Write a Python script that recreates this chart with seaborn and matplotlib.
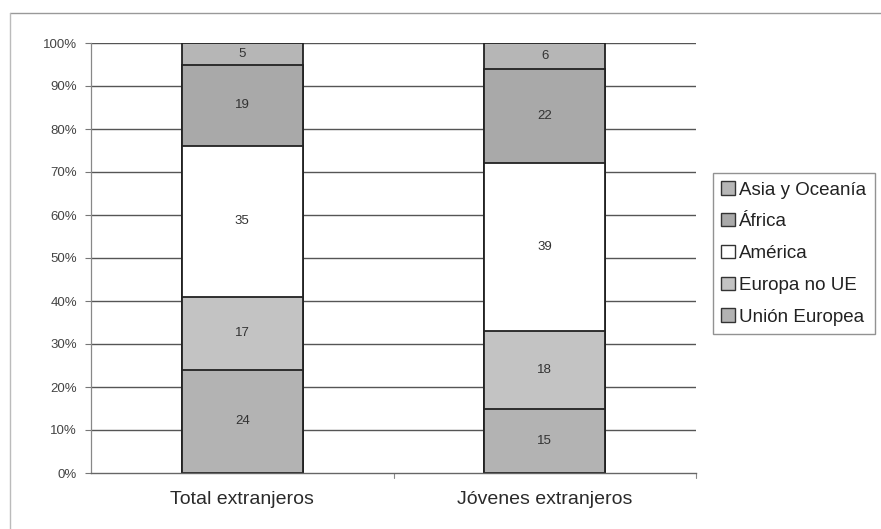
import numpy as np
import pandas as pd
import matplotlib
matplotlib.use("Agg")
import matplotlib.pyplot as plt
from matplotlib.patches import Patch
from matplotlib.lines import Line2D
import seaborn as sns

# Distribution by origin (percent)
groups = ["Total extranjeros", "Jóvenes extranjeros"]
regions = ["Unión Europea", "Europa no UE", "América", "África", "Asia y Oceanía"]
union_europea = [24, 15]
europa_no_ue = [17, 18]
america = [35, 39]
africa = [19, 22]
asia_oceania = [5, 6]
y_ticks = [0, 10, 20, 30, 40, 50, 60, 70, 80, 90, 100]

colors = {
    "Unión Europea": "#b3b3b3",
    "Europa no UE": "#c3c3c3",
    "América": "#ffffff",
    "África": "#a9a9a9",
    "Asia y Oceanía": "#b6b6b6",
}

values = [union_europea, europa_no_ue, america, africa, asia_oceania]
df = pd.DataFrame({"grupo": groups * len(regions),
                   "region": [r for r in regions for _ in groups],
                   "valor": [v for vals in values for v in vals]})
df["grupo"] = pd.Categorical(df["grupo"], groups)
df["region"] = pd.Categorical(df["region"], regions)
df = df.sort_values(["grupo", "region"])
df["top"] = df.groupby("grupo", observed=True)["valor"].cumsum()
df["mid"] = df["top"] - df["valor"] / 2

sns.set_theme(style="white")
plt.rcParams["font.family"] = ["Liberation Sans", "DejaVu Sans"]

fig = plt.figure(figsize=(8.81, 5.29), dpi=100)
ax = fig.add_axes([91 / 881, 1 - 473 / 529, (696 - 91) / 881, (473 - 43) / 529])

# stacked bars: draw cumulative tops from the highest segment down
for region in reversed(regions):
    sub = df[df["region"] == region]
    sns.barplot(data=sub, x="grupo", y="top", order=groups, color=colors[region],
                width=0.4, edgecolor="#222222", linewidth=1.3, saturation=1,
                ax=ax, zorder=2)

for _, row in df.iterrows():
    xi = groups.index(row["grupo"])
    ax.text(xi, row["mid"], f"{row['valor']:d}", ha="center", va="center",
            fontsize=9.5, color="#333333", zorder=3)

ax.set_ylim(0, 100)
ax.set_xlim(-0.5, 1.5)
ax.set_yticks(y_ticks)
ax.set_yticklabels([f"{t}%" for t in y_ticks], fontsize=9.5, color="#444444")
ax.tick_params(axis="y", length=4, width=0.8, color="#777777", pad=6, left=True)
ax.tick_params(axis="x", length=0, labelsize=14, labelcolor="#2a2a2a", pad=13)
ax.set_xlabel("")
ax.set_ylabel("")
for t in y_ticks[1:]:
    ax.axhline(t, color="#555555", lw=1.0, zorder=1)
for xb in [0.5, 1.5]:
    ax.plot([xb, xb], [0, -1.2], color="#888888", lw=0.8, clip_on=False)

for side in ["top", "right"]:
    ax.spines[side].set_visible(False)
ax.spines["left"].set_color("#888888")
ax.spines["left"].set_linewidth(0.9)
ax.spines["bottom"].set_color("#666666")
ax.spines["bottom"].set_linewidth(1.0)

handles = [Patch(facecolor=colors[r], edgecolor="#333333", linewidth=1.0, label=r)
           for r in reversed(regions)]
leg = fig.legend(handles=handles, loc="upper left",
                 bbox_to_anchor=(713 / 881, 1 - 173 / 529), frameon=True,
                 fontsize=13.5, handlelength=0.7, handleheight=0.7,
                 handletextpad=0.25, labelspacing=0.78, borderpad=0.45,
                 borderaxespad=0, fancybox=False, labelcolor="#222222")
leg.get_frame().set_edgecolor("#777777")
leg.get_frame().set_linewidth(1.0)

# outer chart frame
fig.add_artist(Line2D([10 / 881, 1.0], [1 - 13 / 529] * 2, color="#999999", lw=1.0))
fig.add_artist(Line2D([10 / 881] * 2, [0, 1 - 13 / 529], color="#bbbbbb", lw=1.0))

fig.savefig("out.png", dpi=100, facecolor="white")
